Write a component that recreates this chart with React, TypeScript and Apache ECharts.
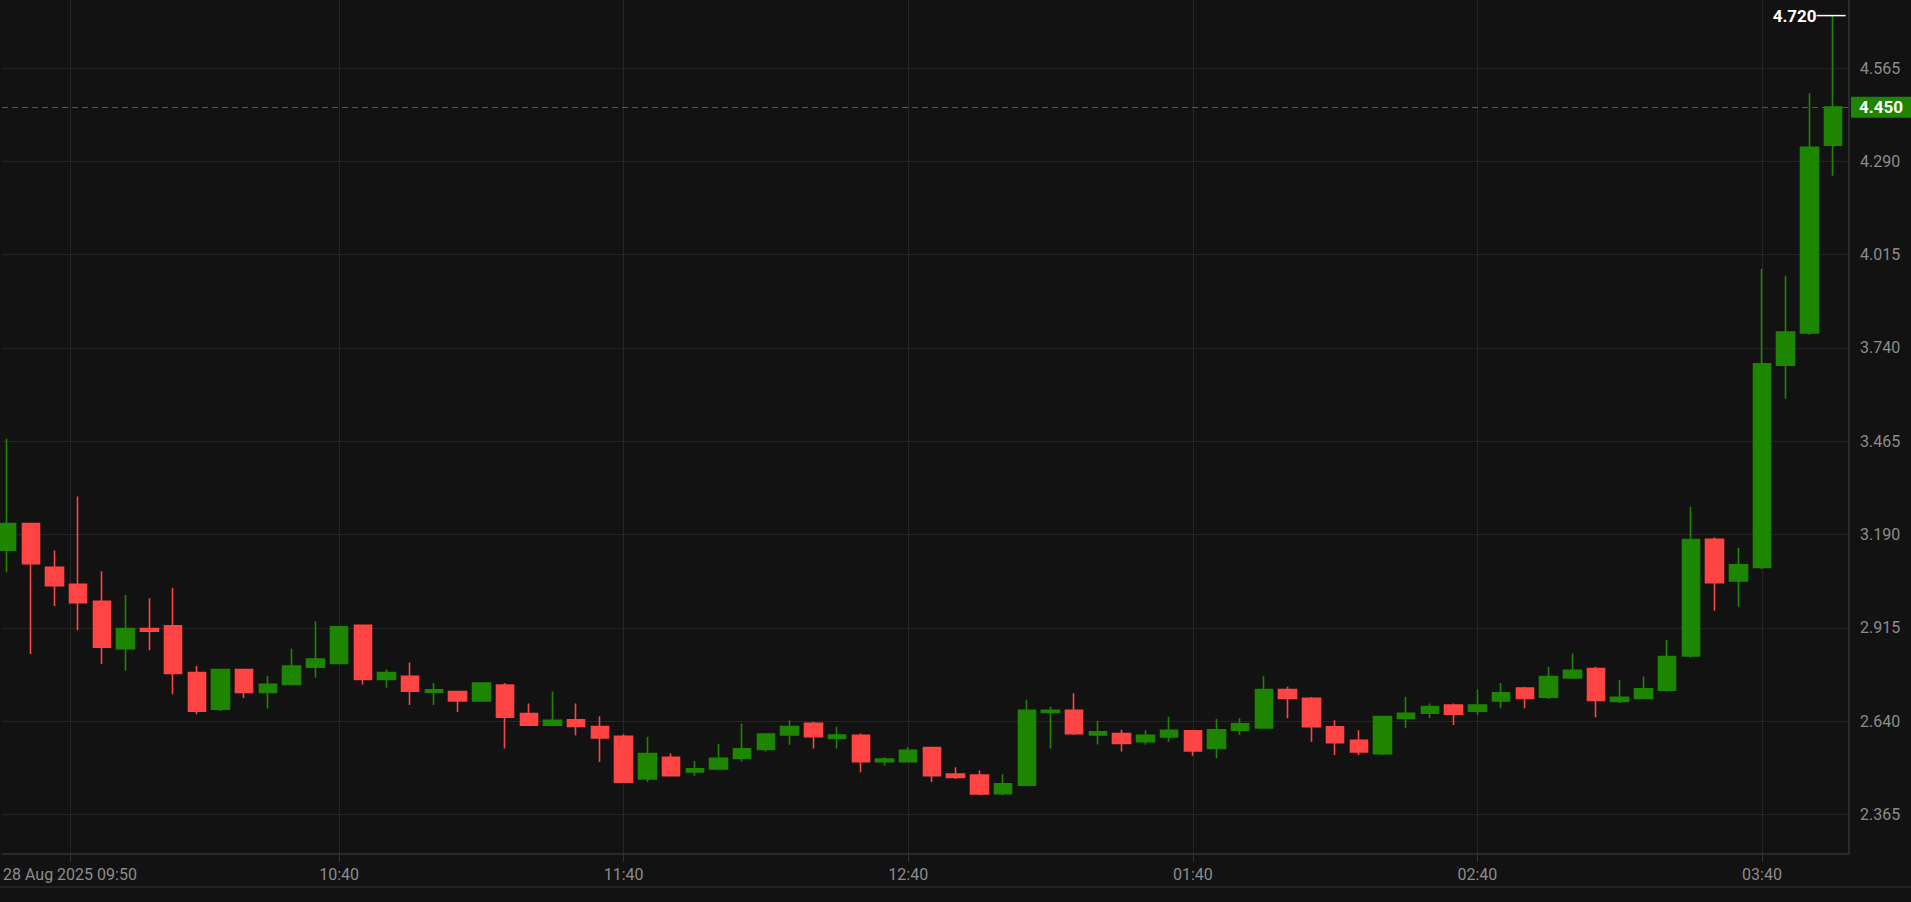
import React, { useEffect, useRef } from 'react';
import * as echarts from 'echarts';

// 5-minute candles, index 0..77
const opens = [
  3.144, 3.222, 3.093, 3.043, 2.993, 2.853, 2.913, 2.921, 2.783, 2.675,
  2.792, 2.724, 2.748, 2.799, 2.810, 2.922, 2.763, 2.772, 2.725, 2.727,
  2.699, 2.746, 2.662, 2.628, 2.644, 2.624, 2.595, 2.469, 2.533, 2.490,
  2.499, 2.530, 2.556, 2.599, 2.633, 2.589, 2.598, 2.520, 2.520, 2.562,
  2.484, 2.481, 2.426, 2.451, 2.665, 2.672, 2.599, 2.603, 2.579, 2.593,
  2.611, 2.559, 2.613, 2.620, 2.733, 2.707, 2.623, 2.583, 2.544, 2.648,
  2.663, 2.687, 2.669, 2.699, 2.737, 2.710, 2.767, 2.795, 2.698, 2.707,
  2.731, 2.832, 3.176, 3.053, 3.093, 3.689, 3.784, 4.338,
];
const closes = [
  3.222, 3.104, 3.039, 2.989, 2.858, 2.913, 2.905, 2.780, 2.669, 2.792,
  2.724, 2.748, 2.802, 2.823, 2.918, 2.763, 2.783, 2.728, 2.732, 2.699,
  2.752, 2.651, 2.628, 2.642, 2.624, 2.590, 2.460, 2.544, 2.479, 2.499,
  2.530, 2.558, 2.602, 2.624, 2.594, 2.599, 2.520, 2.528, 2.554, 2.479,
  2.474, 2.425, 2.455, 2.672, 2.672, 2.603, 2.608, 2.574, 2.598, 2.613,
  2.552, 2.614, 2.632, 2.733, 2.707, 2.623, 2.576, 2.549, 2.653, 2.663,
  2.683, 2.660, 2.687, 2.723, 2.707, 2.771, 2.790, 2.701, 2.710, 2.735,
  2.830, 3.175, 3.048, 3.101, 3.693, 3.787, 4.332, 4.450,
];
const lows = [
  3.079, 2.838, 2.979, 2.908, 2.808, 2.788, 2.849, 2.719, 2.660, 2.670,
  2.708, 2.677, 2.748, 2.768, 2.809, 2.748, 2.738, 2.687, 2.687, 2.667,
  2.698, 2.559, 2.627, 2.627, 2.598, 2.519, 2.459, 2.460, 2.478, 2.479,
  2.497, 2.520, 2.550, 2.570, 2.559, 2.559, 2.489, 2.508, 2.519, 2.460,
  2.469, 2.421, 2.421, 2.450, 2.559, 2.599, 2.571, 2.550, 2.570, 2.579,
  2.538, 2.530, 2.599, 2.619, 2.648, 2.579, 2.540, 2.540, 2.540, 2.619,
  2.648, 2.628, 2.658, 2.678, 2.678, 2.705, 2.765, 2.651, 2.693, 2.705,
  2.727, 2.827, 2.965, 2.977, 3.088, 3.590, 3.779, 4.248,
];
const highs = [
  3.472, 3.224, 3.143, 3.302, 3.082, 3.012, 3.002, 3.032, 2.802, 2.794,
  2.794, 2.773, 2.853, 2.934, 2.920, 2.925, 2.792, 2.813, 2.752, 2.727,
  2.754, 2.752, 2.692, 2.727, 2.692, 2.654, 2.601, 2.594, 2.545, 2.522,
  2.573, 2.633, 2.604, 2.642, 2.638, 2.623, 2.603, 2.533, 2.563, 2.564,
  2.504, 2.494, 2.484, 2.703, 2.682, 2.722, 2.641, 2.614, 2.613, 2.653,
  2.611, 2.647, 2.648, 2.772, 2.741, 2.711, 2.642, 2.613, 2.655, 2.711,
  2.692, 2.692, 2.733, 2.752, 2.741, 2.800, 2.839, 2.800, 2.761, 2.771,
  2.879, 3.272, 3.181, 3.150, 3.973, 3.953, 4.491, 4.720,
];

const timeTickPositions = [2.65, 14, 26, 38, 50, 62, 74];
const timeTickLabels = ['28 Aug 2025 09:50', '10:40', '11:40', '12:40', '01:40', '02:40', '03:40'];
const priceTicks = [2.365, 2.64, 2.915, 3.19, 3.465, 3.74, 4.015, 4.29, 4.565];
const lastPrice = 4.45;

const X_MIN = -0.21;
const X_MAX = 77.67;
const Y_MIN = 2.248;
const Y_MAX = 4.766;

const UP = '#1e8500';
const DOWN = '#ff4444';
const BG = '#121212';
const GRID = '#262626';
const LABEL = '#8c8c8c';

export default function App() {
  const ref = useRef<HTMLDivElement>(null);

  useEffect(() => {
    const chart = echarts.init(ref.current as HTMLDivElement, null, { renderer: 'svg' });
    const data = opens.map((o, i) => [i, o, closes[i], lows[i], highs[i]]);

    chart.setOption({
      animation: false,
      backgroundColor: BG,
      textStyle: { fontFamily: 'Roboto, sans-serif' },
      grid: { left: 0, right: 62, top: 0, bottom: 48, containLabel: false },
      xAxis: {
        type: 'value',
        min: X_MIN,
        max: X_MAX,
        axisLine: { show: true, onZero: false, lineStyle: { color: '#2a2a2a', width: 2 } },
        axisTick: { show: true, length: 8, lineStyle: { color: '#333333' }, customValues: timeTickPositions },
        axisLabel: {
          customValues: timeTickPositions,
          color: LABEL,
          fontSize: 16,
          margin: 12,
          formatter: (v: number) => {
            const k = timeTickPositions.findIndex((p) => Math.abs(p - v) < 1e-6);
            return k >= 0 ? timeTickLabels[k] : '';
          },
        },
        splitLine: { show: true, lineStyle: { color: GRID, width: 1 } },
      },
      yAxis: {
        type: 'value',
        position: 'right',
        min: Y_MIN,
        max: Y_MAX,
        axisLine: { show: true, onZero: false, lineStyle: { color: '#2a2a2a', width: 2 } },
        axisTick: { show: false, customValues: priceTicks },
        axisLabel: {
          customValues: priceTicks,
          color: LABEL,
          fontSize: 16,
          margin: 11,
          formatter: (v: number) => v.toFixed(3),
        },
        splitLine: { show: true, lineStyle: { color: GRID, width: 1 } },
      },
      series: [
        {
          type: 'candlestick',
          data,
          barWidth: 18,
          itemStyle: {
            color: UP,
            color0: DOWN,
            borderColor: UP,
            borderColor0: DOWN,
            borderWidth: 1.6,
          },
          markLine: {
            silent: true,
            symbol: 'none',
            animation: false,
            data: [{ yAxis: lastPrice }],
            lineStyle: { color: UP, type: [6, 4], width: 1 },
            label: {
              show: true,
              position: 'end',
              distance: 2,
              formatter: lastPrice.toFixed(3),
              backgroundColor: UP,
              color: '#ffffff',
              fontWeight: 'bold',
              fontSize: 17,
              padding: [2, 16, 2, 8],
            },
          },
          markPoint: {
            silent: true,
            animation: false,
            symbol: 'rect',
            symbolSize: [29, 1.5],
            symbolOffset: [-2, 0],
            itemStyle: { color: '#ffffff' },
            label: {
              show: true,
              position: 'left',
              distance: 0,
              color: '#ffffff',
              fontWeight: 'bold',
              fontSize: 17,
              formatter: (p: any) => Number(p.value).toFixed(3),
            },
            data: [{ type: 'max', valueDim: 'highest' }],
          },
        },
      ],
      graphic: [
        {
          type: 'rect',
          left: 0,
          top: 886,
          silent: true,
          shape: { width: 1911, height: 2 },
          style: { fill: '#222222' },
        },
      ],
    });

    return () => chart.dispose();
  }, []);

  return (
    <div
      ref={ref}
      style={{ position: 'fixed', left: 0, top: 0, width: 1911, height: 902, background: BG }}
    />
  );
}
